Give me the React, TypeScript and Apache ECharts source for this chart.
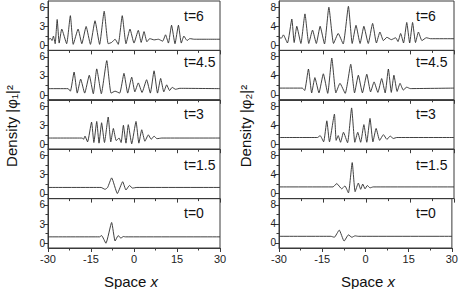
import React, { useEffect, useRef } from "react";
import * as echarts from "echarts";

const timeLabels = ["t=6", "t=4.5", "t=3", "t=1.5", "t=0"];
const leftYTicks = [0, 3, 6];
const leftYMinor = [1.5, 4.5];
const rightYTicks = [0, 4, 8];
const rightYMinor = [2, 6];

// |phi1|^2, left column
const phi1_t6 = [[-30,1.0],[-29,1.1],[-28.6,0.8],[-28.1,1.5],[-27.5,0.3],[-26.8,4.1],[-26.1,0.4],[-25.2,2.6],[-23.5,0.3],[-22.2,4.7],[-21.2,0.2],[-19.5,2.6],[-18.2,0.3],[-16.7,3.0],[-15.2,0.2],[-13.6,3.9],[-12.0,0.2],[-10.4,5.4],[-9.0,0.3],[-7.8,0.5],[-6.6,1.0],[-5.5,0.2],[-4.1,4.7],[-2.8,0.3],[-1.4,2.6],[0,0.4],[1.5,2.4],[2.5,0.5],[3.5,2.2],[4.5,0.6],[5.5,1.1],[7,0.9],[8.5,1.0],[10,0.7],[11.0,1.7],[12,0.4],[13.1,3.2],[14.3,0.3],[15.5,3.2],[16.5,0.4],[17.4,1.5],[18.5,0.8],[19.5,1.1],[21,1.0],[30,1.0]];
const phi1_t45 = [[-30,1.0],[-23,1.0],[-22.2,0.6],[-20.9,3.6],[-19.8,0.3],[-18.6,2.5],[-17.2,0.3],[-15.6,3.1],[-14.2,0.2],[-13.0,4.1],[-11.4,0.2],[-9.5,5.4],[-8.0,0.3],[-6.6,0.6],[-5.0,0.3],[-3.5,3.4],[-2.2,0.3],[-0.8,2.8],[0.3,0.5],[1.5,1.9],[2.8,0.4],[4.4,2.4],[5.7,0.3],[7.0,3.8],[8.2,0.3],[9.3,2.6],[10.4,0.5],[11.4,1.6],[12.4,0.7],[13.3,1.2],[14.5,0.9],[16,1.05],[30,1.0]];
const phi1_t3 = [[-30,1.0],[-18,1.0],[-17.6,0.8],[-17.1,1.3],[-16.2,0.4],[-14.8,3.5],[-14.0,0.3],[-13.0,3.6],[-12.2,0.2],[-11.3,3.4],[-10.3,0.3],[-9.0,4.3],[-8.1,0.4],[-7.2,2.5],[-6.2,0.6],[-5.2,1.0],[-4.5,0.3],[-3.7,3.0],[-2.8,0.2],[-2.0,3.1],[-0.8,0.1],[0.7,3.6],[1.7,0.2],[2.7,2.3],[3.8,0.5],[5.0,1.5],[6.0,0.8],[7.0,1.3],[8.0,0.9],[9.7,1.0],[30,1.0]];
const phi1_t15 = [[-30,1.0],[-11.5,1.0],[-10.1,0.7],[-9.2,1.0],[-7.8,2.5],[-5.8,0.05],[-3.95,1.9],[-2.8,0.6],[-1.6,1.3],[-0.5,0.9],[1,1.0],[30,1.0]];
const phi1_t0 = [[-30,1.0],[-12,1.0],[-11.3,1.2],[-9.8,0.0],[-7.8,3.25],[-6.6,0.35],[-5.5,1.2],[-4.6,0.8],[-3.7,1.05],[-3,1.0],[30,1.0]];

// |phi2|^2, right column
const phi2_t6 = [[-30,1.7],[-29.2,1.5],[-28.5,2.2],[-27.1,0.5],[-25.6,5.5],[-24.8,0.6],[-23.9,4.0],[-22.5,0.4],[-21.1,6.6],[-19.8,0.4],[-18.5,3.2],[-17.2,0.4],[-15.9,4.0],[-14.4,0.3],[-12.9,8.0],[-11.3,0.4],[-9.7,2.5],[-8.0,0.3],[-6.2,8.2],[-4.9,0.4],[-3.6,4.2],[-2.2,0.4],[-0.9,4.0],[0.6,0.4],[2.1,4.6],[3.4,0.5],[4.6,2.8],[5.8,1.0],[7,1.7],[8.5,1.2],[10,1.6],[10.8,0.8],[11.7,2.5],[12.7,0.5],[13.8,4.8],[14.8,0.5],[15.8,4.8],[16.8,0.6],[17.8,2.8],[19,1.0],[20.5,1.6],[22,1.4],[30,1.4]];
const phi2_t45 = [[-30,1.4],[-22,1.4],[-21.2,0.9],[-19.9,5.4],[-18.8,0.4],[-17.7,3.6],[-16.3,0.4],[-14.8,4.4],[-13.3,0.3],[-11.9,7.7],[-10.5,0.4],[-9.1,2.4],[-7.3,0.3],[-5.4,6.4],[-4.1,0.4],[-2.8,4.1],[-1.4,0.4],[0.1,4.3],[1.4,0.6],[2.6,2.7],[3.9,0.5],[5.2,3.4],[6.4,0.4],[7.5,5.4],[8.5,0.5],[9.4,4.1],[10.5,0.7],[11.5,2.4],[12.6,1.0],[13.8,1.6],[15,1.3],[30,1.4]];
const phi2_t3 = [[-30,1.4],[-16.8,1.4],[-15.9,1.8],[-14.7,0.5],[-13.6,4.9],[-12.7,0.5],[-11.0,6.3],[-10.4,0.8],[-9.7,1.8],[-8.9,0.4],[-7.9,2.5],[-6.5,0.3],[-5.1,7.6],[-4.0,0.4],[-3.0,2.5],[-2.0,0.4],[-0.9,4.1],[0.1,0.4],[1.2,5.4],[2.2,0.5],[3.3,3.3],[4.5,0.8],[5.8,2.0],[7.0,1.0],[8.1,1.7],[9.2,1.2],[10.4,1.4],[30,1.4]];
const phi2_t15 = [[-30,1.4],[-11.5,1.4],[-10.2,2.1],[-8.5,1.0],[-7.4,1.6],[-6.2,0.15],[-4.9,6.5],[-3.9,0.4],[-2.8,2.2],[-2.0,0.9],[-1.3,2.0],[-0.5,1.0],[0.3,1.7],[1.2,1.2],[2.3,1.4],[30,1.4]];
const phi2_t0 = [[-30,1.4],[-12,1.4],[-10.8,1.2],[-9.1,2.7],[-7.4,0.4],[-5.9,1.7],[-4.7,1.2],[-3.6,1.5],[-2.5,1.4],[30,1.4]];

const leftSeries = [phi1_t6, phi1_t45, phi1_t3, phi1_t15, phi1_t0];
const rightSeries = [phi2_t6, phi2_t45, phi2_t3, phi2_t15, phi2_t0];

const FONT = "Liberation Sans, Arial, sans-serif";
const AX = "#3a3a3a";

export default function App() {
  const ref = useRef<HTMLDivElement>(null);
  useEffect(() => {
    if (!ref.current) return;
    const chart = echarts.init(ref.current, undefined, { renderer: "svg" });
    const grids: any[] = [];
    const xAxes: any[] = [];
    const yAxes: any[] = [];
    const series: any[] = [];
    const graphics: any[] = [];
    const panelTop = 1;
    const panelH = 49.4;
    const cols = [
      { left: 48, width: 172, data: leftSeries, min: -0.75, max: 7.0, ticks: leftYTicks, minor: leftYMinor, labelX: 184 },
      { left: 279, width: 175, data: rightSeries, min: -1.05, max: 9.3, ticks: rightYTicks, minor: rightYMinor, labelX: 416 },
    ];
    const labelY = [16, 62, 114, 165, 213];
    cols.forEach((c) => {
      for (let i = 0; i < 5; i++) {
        const gi = grids.length;
        grids.push({
          left: c.left,
          top: panelTop + i * panelH,
          width: c.width,
          height: panelH,
          show: true,
          borderColor: AX,
          borderWidth: 1,
          backgroundColor: "transparent",
        });
        const bottom = i === 4;
        xAxes.push({
          type: "value",
          gridIndex: gi,
          position: "bottom",
          min: -30,
          max: 30,
          interval: 15,
          axisLine: { show: true, onZero: false, lineStyle: { color: AX, width: 1 } },
          axisTick: { show: true, length: 4, inside: false, lineStyle: { color: AX } },
          minorTick: { show: true, splitNumber: 2, length: 2.5, lineStyle: { color: AX } },
          axisLabel: { show: bottom, fontSize: 11, fontFamily: FONT, color: "#222", margin: 5 },
          splitLine: { show: false },
          minorSplitLine: { show: false },
        });
        yAxes.push({
          type: "value",
          gridIndex: gi,
          position: "left",
          min: c.min,
          max: c.max,
          axisLine: { show: true, onZero: false, lineStyle: { color: AX, width: 1 } },
          axisTick: { show: true, length: 4, inside: false, customValues: c.ticks, lineStyle: { color: AX } },
          axisLabel: { show: true, customValues: c.ticks, fontSize: 10, fontFamily: FONT, color: "#222", margin: 3 },
          splitLine: { show: false },
        });
        yAxes.push({
          type: "value",
          gridIndex: gi,
          position: "left",
          min: c.min,
          max: c.max,
          axisLine: { show: false, onZero: false },
          axisTick: { show: true, length: 2.5, inside: false, customValues: c.minor, lineStyle: { color: AX } },
          axisLabel: { show: false },
          splitLine: { show: false },
        });
        series.push({
          type: "line",
          xAxisIndex: gi,
          yAxisIndex: gi * 2,
          data: c.data[i],
          showSymbol: false,
          smooth: 0.15,
          lineStyle: { color: "#2b2b2b", width: 0.9 },
          silent: true,
        });
        graphics.push({
          type: "text",
          x: c.labelX,
          y: labelY[i],
          style: {
            text: timeLabels[i],
            font: `14px ${FONT}`,
            fill: "#111",
            textAlign: "left",
            textVerticalAlign: "middle",
          },
        });
      }
    });
    graphics.push({
      type: "text",
      x: 11,
      y: 126,
      rotation: Math.PI / 2,
      style: {
        text: "Density |φ₁|²",
        font: `15px ${FONT}`,
        fill: "#111",
        textAlign: "center",
        textVerticalAlign: "middle",
      },
    });
    graphics.push({
      type: "text",
      x: 245,
      y: 126,
      rotation: Math.PI / 2,
      style: {
        text: "Density |φ₂|²",
        font: `15px ${FONT}`,
        fill: "#111",
        textAlign: "center",
        textVerticalAlign: "middle",
      },
    });
    [131, 368].forEach((cx) => {
      graphics.push({
        type: "text",
        x: cx,
        y: 281,
        style: {
          text: "{a|Space }{b|x}",
          textAlign: "center",
          textVerticalAlign: "middle",
          rich: {
            a: { fontSize: 15, fontFamily: FONT, fill: "#111", color: "#111" },
            b: { fontSize: 15, fontFamily: FONT, fontStyle: "italic", fill: "#111", color: "#111" },
          },
        },
      });
    });
    chart.setOption({
      animation: false,
      backgroundColor: "#fff",
      grid: grids,
      xAxis: xAxes,
      yAxis: yAxes,
      series,
      graphic: graphics,
    });
    return () => chart.dispose();
  }, []);
  return (
    <div
      ref={ref}
      style={{ position: "fixed", left: 0, top: 0, width: 461, height: 289 }}
    />
  );
}
